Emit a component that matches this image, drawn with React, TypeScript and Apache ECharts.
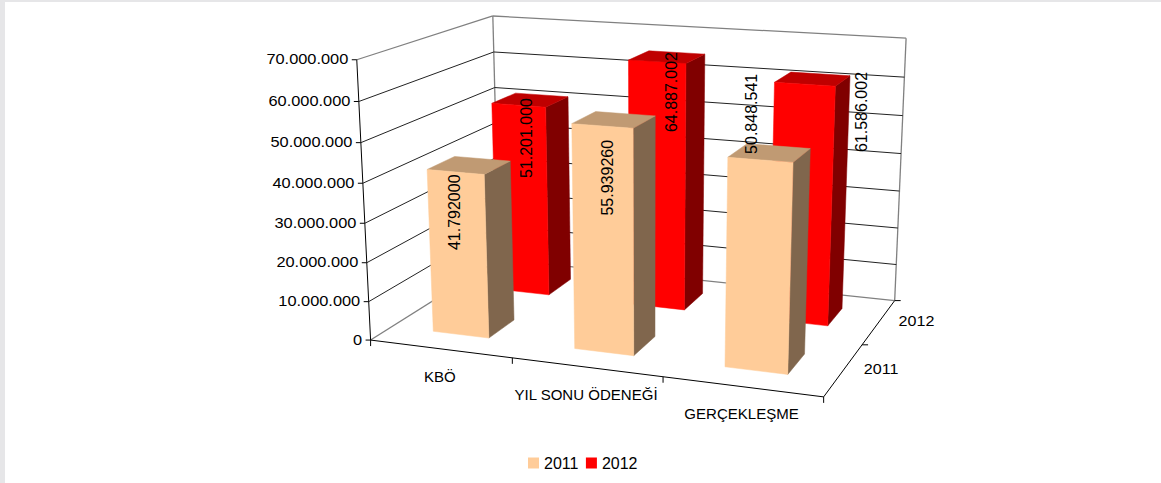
import React, { useEffect, useRef } from "react";
import * as echarts from "echarts";

const categories = ["KBÖ", "YIL SONU ÖDENEĞİ", "GERÇEKLEŞME"];
const depthNames = ["2011", "2012"];
const values2011 = [41792000, 55939260, 50848541];
const values2012 = [51201000, 64887002, 61586002];
const labels2011 = ["41.792000", "55.939260", "50.848.541"];
const labels2012 = ["51.201.000", "64.887.002", "61.586.002"];
const yTicks = [0, 10000000, 20000000, 30000000, 40000000, 50000000, 60000000, 70000000];
const yTickLabels = ["0", "10.000.000", "20.000.000", "30.000.000", "40.000.000", "50.000.000", "60.000.000", "70.000.000"];

const FONT = "Liberation Sans";
const palette2011 = { front: "#FFCC99", top: "#C09A73", side: "#80664D" };
const palette2012 = { front: "#FF0000", top: "#BF0000", side: "#800000" };
const BAR_SHARE = 0.4;

// label shift from the centre of each bar's top face, in pixels
const labelShift2011 = [[-15, 47], [-6.5, 58], [-18, -39]];
const labelShift2012 = [[-4, 38], [4, 35], [49, 33]];

// camera calibration: unit-cube point -> picture point (used to fit one projective camera)
const calibration: number[][] = [
  [0, 0, 0, 370, 341], [1, 0, 0, 823.3, 396], [1, 0, 1, 895, 301], [0, 1, 0, 356.7, 60],
  [0, 1, 1, 491.7, 15.7], [1, 1, 1, 906, 37.7], [0, 0, 1, 500.6, 257.7],
  [0.1, 0, 0.15, 433.3, 331], [0.2333, 0, 0.15, 488, 337.7], [0.2333, 0, 0.35, 513.3, 320],
  [0.1, 0.597, 0.15, 427.7, 169.3], [0.2333, 0.597, 0.15, 485.3, 174.3], [0.2333, 0.597, 0.35, 510, 161.3],
  [0.1, 0.597, 0.35, 455, 157], [0.1, 0.7314, 0.65, 492.3, 103.3], [0.2333, 0.7314, 0.65, 545.7, 107.3],
  [0.2333, 0.7314, 0.85, 567.3, 97.7], [0.4333, 0.927, 0.65, 628.3, 60], [0.5667, 0.927, 0.65, 687.3, 63.3],
  [0.5667, 0.927, 0.85, 705, 54.3], [0.5667, 0, 0.65, 684, 310], [0.5667, 0, 0.85, 702, 294],
  [0.7667, 0.8798, 0.65, 775, 82], [0.9, 0.8798, 0.65, 835, 86.3], [0.9, 0.8798, 0.85, 849.3, 76],
  [0.9, 0, 0.65, 827.7, 325.7], [0.9, 0, 0.85, 842, 309], [0.5667, 0.7991, 0.15, 632.7, 127.7],
  [0.5667, 0.7991, 0.35, 655, 116], [0.5667, 0, 0.15, 634, 356], [0.5667, 0, 0.35, 655, 336.7],
  [0.7667, 0.7264, 0.15, 728.3, 156.7], [0.9, 0.7264, 0.15, 792.7, 162.7], [0.9, 0.7264, 0.35, 810.7, 149],
  [0.7667, 0, 0.15, 725, 367], [0.9, 0, 0.15, 788, 374], [0.9, 0, 0.35, 805, 354],
];

function fitCamera(points: number[][]): number[] {
  const n = 11;
  const A: number[][] = Array.from({ length: n }, () => new Array(n + 1).fill(0));
  const add = (row: number[], rhs: number) => {
    for (let i = 0; i < n; i++) {
      for (let j = 0; j < n; j++) A[i][j] += row[i] * row[j];
      A[i][n] += row[i] * rhs;
    }
  };
  for (const [x, y, z, px, py] of points) {
    const u = px / 1000;
    const v = py / 1000;
    add([x, y, z, 1, 0, 0, 0, 0, -u * x, -u * y, -u * z], u);
    add([0, 0, 0, 0, x, y, z, 1, -v * x, -v * y, -v * z], v);
  }
  for (let c = 0; c < n; c++) {
    let best = c;
    for (let r = c + 1; r < n; r++) if (Math.abs(A[r][c]) > Math.abs(A[best][c])) best = r;
    [A[c], A[best]] = [A[best], A[c]];
    for (let r = 0; r < n; r++) {
      if (r === c) continue;
      const f = A[r][c] / A[c][c];
      for (let k = c; k <= n; k++) A[r][k] -= f * A[c][k];
    }
  }
  return A.map((row, i) => row[n] / row[i]);
}

const cam = fitCamera(calibration);
const project = (x: number, y: number, z: number): number[] => {
  const w = cam[8] * x + cam[9] * y + cam[10] * z + 1;
  return [
    (1000 * (cam[0] * x + cam[1] * y + cam[2] * z + cam[3])) / w,
    (1000 * (cam[4] * x + cam[5] * y + cam[6] * z + cam[7])) / w,
  ];
};

// unit-cube position of a datum, read through the hidden cartesian axes
const unit = (api: any, params: any, cat: number, value: number) => {
  const c = api.coord([cat, value]);
  const cs = params.coordSys;
  return {
    x: (c[0] - cs.x) / cs.width,
    y: (cs.y + cs.height - c[1]) / cs.height,
    band: api.size([1, 0])[0] / cs.width,
  };
};

const seg = (a: number[], b: number[], stroke: string, lineWidth = 1) => ({
  type: "line",
  silent: true,
  shape: { x1: a[0], y1: a[1], x2: b[0], y2: b[1] },
  style: { stroke, lineWidth },
});

const label = (text: string, x: number, y: number, fontSize: number, scaleX = 1, rotation = 0, align = "center") => ({
  type: "text",
  silent: true,
  x,
  y,
  scaleX,
  rotation,
  style: { text, fill: "#000", fontFamily: FONT, fontSize, align, verticalAlign: "middle" },
});

const barSeries = (name: string, values: number[], depthIndex: number, pal: typeof palette2011, z: number) => ({
  type: "custom",
  name,
  coordinateSystem: "cartesian2d",
  z,
  itemStyle: { color: pal.front },
  encode: { x: 0, y: 1 },
  data: values.map((v, i) => [i, v]),
  renderItem: (params: any, api: any) => {
    const u = unit(api, params, api.value(0), api.value(1));
    const half = (u.band * BAR_SHARE) / 2;
    const x0 = u.x - half;
    const x1 = u.x + half;
    const slot = 1 / depthNames.length;
    const zc = (depthIndex + 0.5) * slot;
    const z0 = zc - (slot * BAR_SHARE) / 2;
    const z1 = zc + (slot * BAR_SHARE) / 2;
    const poly = (pts: number[][], fill: string) => ({
      type: "polygon",
      silent: true,
      shape: { points: pts },
      style: { fill, stroke: fill, lineWidth: 0.5 },
    });
    return {
      type: "group",
      children: [
        poly([project(x1, 0, z0), project(x1, 0, z1), project(x1, u.y, z1), project(x1, u.y, z0)], pal.side),
        poly([project(x0, u.y, z0), project(x1, u.y, z0), project(x1, u.y, z1), project(x0, u.y, z1)], pal.top),
        poly([project(x0, 0, z0), project(x1, 0, z0), project(x1, u.y, z0), project(x0, u.y, z0)], pal.front),
      ],
    };
  },
});

const valueLabelSeries = (values: number[], texts: string[], shifts: number[][], depthIndex: number) => ({
  type: "custom",
  coordinateSystem: "cartesian2d",
  z: 10,
  encode: { x: 0, y: 1 },
  data: values.map((v, i) => [i, v]),
  renderItem: (params: any, api: any) => {
    const i = api.value(0);
    const u = unit(api, params, i, api.value(1));
    const p = project(u.x, u.y, (depthIndex + 0.5) / depthNames.length);
    return label(texts[i], p[0] + shifts[i][0], p[1] + shifts[i][1], 16, 1, Math.PI / 2);
  },
});

const option: any = {
  animation: false,
  backgroundColor: "transparent",
  grid: { left: 0, top: 0, right: 0, bottom: 0 },
  xAxis: { type: "category", data: categories, show: false },
  yAxis: { type: "value", min: 0, max: 70000000, interval: 10000000, show: false },
  legend: {
    data: depthNames,
    left: 528,
    top: 455,
    padding: 0,
    icon: "rect",
    itemWidth: 11,
    itemHeight: 11,
    itemGap: 7.5,
    selectedMode: false,
    textStyle: { fontFamily: FONT, fontSize: 16, color: "#000", padding: [0, 0, 0, 0] },
  },
  series: [
    {
      // frame and floor
      type: "custom",
      coordinateSystem: "cartesian2d",
      z: 1,
      encode: { x: 0, y: 1 },
      data: [[0, 0]],
      renderItem: () => {
        const gray = "#808080";
        return {
          type: "group",
          children: [
            seg(project(0, 1, 0), project(0, 1, 1), gray, 1.3),
            seg(project(0, 1, 1), project(1, 1, 1), gray, 1.3),
            seg(project(0, 0, 1), project(0, 1, 1), gray, 1.3),
            seg(project(1, 0, 1), project(1, 1, 1), gray, 1.3),
            seg(project(0, 0, 0), project(0, 0, 1), gray, 1.3),
            seg(project(0, 0, 1), project(1, 0, 1), gray, 1.3),
            seg(project(0, 0, 0), project(1, 0, 0), "#000"),
            seg(project(1, 0, 0), project(1, 0, 1), "#000"),
            seg(project(0, 0, 0), project(0, 1, 0), "#000"),
          ],
        };
      },
    },
    {
      // value axis: grid lines, ticks, tick labels
      type: "custom",
      coordinateSystem: "cartesian2d",
      z: 2,
      encode: { x: 0, y: 1 },
      data: yTicks.map((v) => [0, v]),
      renderItem: (params: any, api: any) => {
        const u = unit(api, params, 0, api.value(1));
        const a = project(0, u.y, 0);
        const children: any[] = [seg(a, [a[0] - 5, a[1]], "#000")];
        if (params.dataIndex > 0 && params.dataIndex < yTicks.length - 1) {
          children.push(seg(a, project(0, u.y, 1), "#222"), seg(project(0, u.y, 1), project(1, u.y, 1), "#222"));
        }
        children.push(label(yTickLabels[params.dataIndex], a[0] - 8.5, a[1] - 0.5, 14, 1.17, 0, "right"));
        return { type: "group", children };
      },
    },
    {
      // category axis: ticks and labels
      type: "custom",
      coordinateSystem: "cartesian2d",
      z: 2,
      encode: { x: 0, y: 1 },
      data: categories.map((_, i) => [i, 0]),
      renderItem: (params: any, api: any) => {
        const i = api.value(0);
        const u = unit(api, params, i, 0);
        const p = project(u.x, 0, 0);
        const left = project(i / categories.length, 0, 0);
        const right = project((i + 1) / categories.length, 0, 0);
        const children: any[] = [
          seg(right, [right[0], right[1] + 6], "#000"),
          label(categories[i], p[0] - 0.5, p[1] + 28, 14, 1.075),
        ];
        if (i === 0) children.push(seg(left, [left[0], left[1] + 6], "#000"));
        return { type: "group", children };
      },
    },
    {
      // depth axis: ticks and labels
      type: "custom",
      coordinateSystem: "cartesian2d",
      z: 2,
      encode: { x: 0, y: 1 },
      data: depthNames.map((_, i) => [i, 0]),
      renderItem: (params: any, api: any) => {
        const i = params.dataIndex;
        const p = project(1, 0, (i + 0.5) / depthNames.length);
        const end = project(1, 0, (i + 1) / depthNames.length);
        return {
          type: "group",
          children: [
            seg(end, [end[0] + 6, end[1]], "#000"),
            label(depthNames[i], p[0] + 37.5, p[1] - 1, 14, 1.15),
          ],
        };
      },
    },
    barSeries("2012", values2012, 1, palette2012, 3),
    barSeries("2011", values2011, 0, palette2011, 4),
    valueLabelSeries(values2012, labels2012, labelShift2012, 1),
    valueLabelSeries(values2011, labels2011, labelShift2011, 0),
  ],
};

export default function App() {
  const ref = useRef<HTMLDivElement>(null);
  useEffect(() => {
    const chart = echarts.init(ref.current as HTMLDivElement, undefined, { renderer: "svg" });
    chart.setOption(option);
    return () => chart.dispose();
  }, []);
  return (
    <div style={{ position: "fixed", left: 0, top: 0, width: 1161, height: 483, background: "#fff" }}>
      <div style={{ position: "absolute", left: 0, top: 0, width: 1161, height: 2, background: "#E6E6E8" }} />
      <div style={{ position: "absolute", left: 0, top: 0, width: 5, height: 483, background: "#E6E6E8" }} />
      <div ref={ref} style={{ position: "absolute", left: 0, top: 0, width: 1161, height: 483 }} />
    </div>
  );
}
